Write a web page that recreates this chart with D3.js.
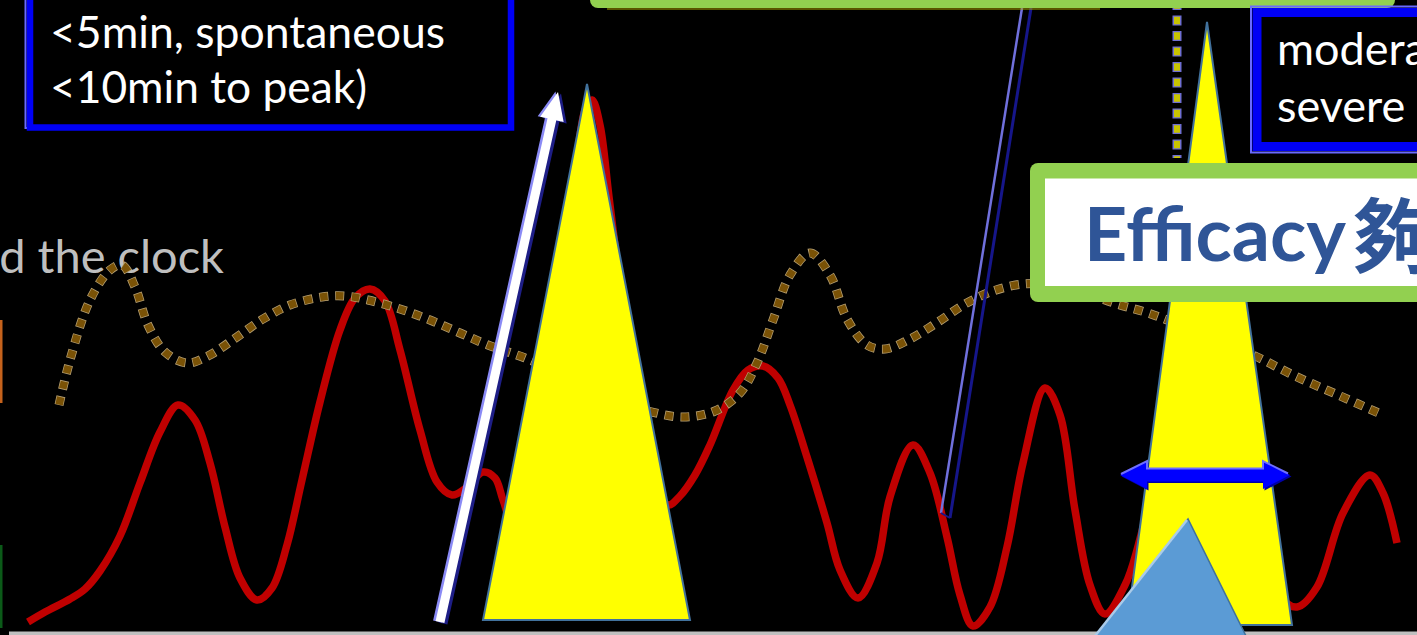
<!DOCTYPE html>
<html>
<head>
<meta charset="utf-8">
<script src="https://cdn.jsdelivr.net/npm/d3@7"></script>
<style>
  html, body { margin: 0; padding: 0; background: #000; overflow: hidden; }
  svg { display: block; }
</style>
</head>
<body>
<svg id="chart" width="1417" height="635"></svg>
<script>
// Breakthrough pain episodes over the day (time, intensity)
const painTime  = [2.8, 4.5, 7.0, 8.5, 10.0, 12.0, 14.0, 16.0, 17.8, 19.5, 21.0, 22.5, 24.0, 25.7, 27.2, 28.7, 30.2, 32.0, 34.0, 35.5, 37.0, 38.5, 40.0, 42.0, 43.7, 45.2, 46.6, 48.3, 49.5, 50.3, 51.5, 54.0, 57.0, 58.5, 59.2, 60.0, 60.9, 62.2, 64.0, 65.5, 66.8, 68.0, 69.5, 71.0, 73.3, 74.8, 76.3, 77.8, 79.0, 80.7, 82.7, 84.0, 85.8, 87.7, 89.0, 91.3, 93.0, 94.7, 96.0, 97.3, 99.0, 100.7, 102.3, 104.5, 106.0, 107.5, 109.0, 110.5, 112.5, 113.7, 115.5, 117.0, 118.5, 119.5, 120.5, 122.0, 124.0, 126.2, 128.2, 129.7, 131.7, 134.3, 137.0, 138.3, 139.7];
const painLevel = [0.8, 1.8, 3.1, 4.1, 5.9, 9.4, 14.7, 19.8, 22.5, 21.0, 16.7, 10.3, 5.2, 3.0, 4.2, 8.5, 15.0, 22.8, 30.0, 33.2, 34.1, 32.9, 28.0, 20.0, 14.8, 13.5, 14.2, 15.8, 15.2, 13.0, 10.0, 23.0, 41.0, 52.0, 53.0, 50.5, 43.3, 33.0, 21.0, 15.0, 12.5, 13.4, 15.5, 18.5, 24.0, 26.0, 26.4, 25.2, 22.5, 17.3, 10.7, 6.0, 3.2, 6.7, 13.3, 18.5, 15.7, 9.3, 3.5, 0.4, 2.3, 8.3, 16.7, 24.2, 21.5, 12.0, 4.5, 1.6, 4.5, 8.0, 16.0, 27.0, 37.0, 42.0, 44.5, 37.0, 23.0, 10.0, 3.2, 2.3, 4.3, 11.7, 15.5, 13.7, 8.7];

// Background (persistent) pain level
const bgTime  = [5.9, 7.0, 9.0, 11.0, 12.2, 13.5, 14.8, 16.5, 18.7, 20.8, 23.7, 26.3, 29.0, 32.2, 34.5, 36.8, 40.0, 43.0, 46.0, 48.8, 52.5, 57.0, 62.0, 65.2, 68.3, 71.5, 74.0, 75.7, 77.3, 79.0, 81.0, 83.0, 84.7, 86.7, 88.5, 91.0, 93.8, 96.5, 99.3, 102.3, 105.5, 108.5, 111.7, 114.8, 120.0, 125.3, 129.5, 133.8, 138.3];
const bgLevel = [22.5, 27.0, 33.0, 36.0, 36.5, 34.3, 30.5, 27.8, 26.7, 27.4, 29.3, 31.1, 32.5, 33.3, 33.4, 33.0, 32.1, 31.0, 29.7, 28.5, 27.2, 25.2, 22.8, 21.8, 21.3, 21.9, 23.7, 26.7, 31.0, 35.5, 37.7, 35.5, 31.1, 28.5, 28.1, 29.1, 30.8, 32.6, 33.9, 34.6, 34.5, 33.7, 32.6, 31.7, 29.7, 27.5, 25.4, 23.5, 21.5];

// Rescue-dose effect triangles
const doseApexTime  = [58.7, 120.7];
const doseApexLevel = [54.6, 60.8];
const doseBaseStart = [48.3, 112.7];
const doseBaseEnd   = [69.0, 129.2];
const doseBaseLevel = [1.0, 0.5];

// Rapid onset arrow (tail, tip)
const onsetArrowTime  = [44.0, 55.8];
const onsetArrowLevel = [0.8, 53.8];

// Thin reference bar (left and right rails)
const railTime  = [[94.1, 102.2], [95.0, 103.1]];
const railLevel = [[11.7, 62.2], [11.2, 62.2]];

// Duration marker
const durationTime  = [112.0, 129.0];
const durationLevel = 15.5;

// Dotted vertical marker
const markerTime  = 117.7;
const markerLevel = [63.0, 47.2];

// Blue dose marker (apex, base left, base right)
const markTime  = [118.8, 109.2, 124.8];
const markLevel = [11.1, -1.0, -1.0];

// Text labels
const leftBoxLines  = ["<5min, spontaneous", "<10min to peak)"];
const rightBoxLines = ["moderate to", "severe  pain"];
const clockLabel    = "Around the clock";
const efficacyLabel = "Efficacy";
const efficacyCJK   = "夠";

const svg = d3.select("#chart");
const x = d3.scaleLinear().domain([0, 141.7]).range([0, 1417]);
const y = d3.scaleLinear().domain([0, 63]).range([630, 0]);

svg.append("rect").attr("width", 1417).attr("height", 635).attr("fill", "#000");

// left edge bars & baseline
svg.append("rect").attr("x", 0).attr("y", 320).attr("width", 2.5).attr("height", 83).attr("fill", "#C5621C");
svg.append("rect").attr("x", 0).attr("y", 545).attr("width", 2.5).attr("height", 83).attr("fill", "#0B5A18");
svg.append("rect").attr("x", 9).attr("y", 631.5).attr("width", 1410).attr("height", 4).attr("fill", "#BFBFBF");

// label
svg.append("text")
  .attr("x", 224).attr("y", 273)
  .attr("text-anchor", "end")
  .attr("font-family", "Lato, 'Open Sans', sans-serif")
  .attr("font-size", 47)
  .attr("fill", "#BFBFBF")
  .text(clockLabel);

// breakthrough pain curve
const curve = d3.curveCatmullRom.alpha(0.5);
const painLine = d3.line()
  .x((d, i) => x(painTime[i]))
  .y((d, i) => y(painLevel[i]))
  .curve(curve);
svg.append("path")
  .attr("d", painLine(painTime))
  .attr("fill", "none")
  .attr("stroke", "#C00000")
  .attr("stroke-width", 7.5)
  .attr("stroke-linecap", "butt")
  .attr("stroke-linejoin", "round");

// background pain, square-dotted
const bgLine = d3.line()
  .x((d, i) => x(bgTime[i]))
  .y((d, i) => y(bgLevel[i]))
  .curve(curve);
svg.append("path")
  .attr("d", bgLine(bgTime))
  .attr("fill", "none")
  .attr("stroke", "#B59F72")
  .attr("stroke-width", 9)
  .attr("stroke-dasharray", "9 7");
svg.append("path")
  .attr("d", bgLine(bgTime))
  .attr("fill", "none")
  .attr("stroke", "#7A5206")
  .attr("stroke-width", 7.5)
  .attr("stroke-dasharray", "7.5 8.5")
  .attr("stroke-dashoffset", -0.75);

// thin rails
svg.append("line")
  .attr("x1", x(railTime[0][0])).attr("y1", y(railLevel[0][0]))
  .attr("x2", x(railTime[0][1])).attr("y2", y(railLevel[0][1]))
  .attr("stroke", "#7070DC").attr("stroke-width", 2.5);
svg.append("line")
  .attr("x1", x(railTime[1][0])).attr("y1", y(railLevel[1][0]))
  .attr("x2", x(railTime[1][1])).attr("y2", y(railLevel[1][1]))
  .attr("stroke", "#16168A").attr("stroke-width", 3);
svg.append("line")
  .attr("x1", x(railTime[0][0])).attr("y1", y(railLevel[0][0]))
  .attr("x2", x(railTime[1][0])).attr("y2", y(railLevel[1][0]))
  .attr("stroke", "#16168A").attr("stroke-width", 2);

// onset arrow
(function () {
  const x0 = x(onsetArrowTime[0]), y0 = y(onsetArrowLevel[0]);
  const x1 = x(onsetArrowTime[1]), y1 = y(onsetArrowLevel[1]);
  const len = Math.hypot(x1 - x0, y1 - y0);
  const ux = (x1 - x0) / len, uy = (y1 - y0) / len;
  const nx = -uy, ny = ux;
  const sw = 4.5, hw = 12, hl = 28;
  const bx = x1 - ux * hl, by = y1 - uy * hl;
  const pts = [
    [x0 + nx * sw, y0 + ny * sw],
    [bx + nx * sw, by + ny * sw],
    [bx + nx * hw, by + ny * hw],
    [x1, y1],
    [bx - nx * hw, by - ny * hw],
    [bx - nx * sw, by - ny * sw],
    [x0 - nx * sw, y0 - ny * sw]
  ];
  const poly = p => p.map(q => q.join(",")).join(" ");
  svg.append("polygon").attr("points", poly(pts)).attr("transform", "translate(3,1.5)").attr("fill", "#1E1E86");
  svg.append("polygon").attr("points", poly(pts)).attr("transform", "translate(-2.5,-0.5)").attr("fill", "#8A8AF5");
  svg.append("polygon").attr("points", poly(pts)).attr("fill", "#FFFFFF");
})();

// rescue-dose triangles
doseApexTime.forEach((t, i) => {
  const pts = [
    [x(t), y(doseApexLevel[i])],
    [x(doseBaseEnd[i]), y(doseBaseLevel[i])],
    [x(doseBaseStart[i]), y(doseBaseLevel[i])]
  ];
  svg.append("polygon")
    .attr("points", pts.map(p => p.join(",")).join(" "))
    .attr("fill", "#FFFF00")
    .attr("stroke", "#41719C")
    .attr("stroke-width", 2)
    .attr("stroke-linejoin", "miter");
});

// dotted vertical marker
svg.append("line")
  .attr("x1", x(markerTime)).attr("x2", x(markerTime))
  .attr("y1", y(markerLevel[0])).attr("y2", y(markerLevel[1]))
  .attr("stroke", "#6E6ED2").attr("stroke-width", 9)
  .attr("stroke-dasharray", "10 5.5");
svg.append("line")
  .attr("x1", x(markerTime)).attr("x2", x(markerTime))
  .attr("y1", y(markerLevel[0])).attr("y2", y(markerLevel[1]))
  .attr("stroke", "#C8C400").attr("stroke-width", 6)
  .attr("stroke-dasharray", "7.5 8")
  .attr("stroke-dashoffset", -1.25);

// green title bar at top
svg.append("rect").attr("x", 590).attr("y", -40).attr("width", 805).attr("height", 48).attr("rx", 8).attr("fill", "#92D050");
svg.append("line").attr("x1", 607).attr("x2", 1100).attr("y1", 9).attr("y2", 9).attr("stroke", "#B3A800").attr("stroke-width", 1.2);

const textFont = "Lato, 'Open Sans', sans-serif";

// left text box
svg.append("rect").attr("x", 25.5).attr("y", -30).attr("width", 486).attr("height", 158).attr("fill", "none").attr("stroke", "#6A6AFF").attr("stroke-width", 2);
svg.append("rect").attr("x", 30).attr("y", -30).attr("width", 481).attr("height", 157.5).attr("fill", "#000").attr("stroke", "#0000F5").attr("stroke-width", 6.5);
const leftWidths = [395, 317];
leftBoxLines.forEach((s, i) => {
  svg.append("text")
    .attr("x", 50).attr("y", 48 + i * 55)
    .attr("font-family", textFont).attr("font-size", 45)
    .attr("fill", "#FFFFFF")
    .attr("textLength", leftWidths[i]).attr("lengthAdjust", "spacingAndGlyphs")
    .text(s);
});

// right text box
svg.append("rect").attr("x", 1251).attr("y", 6.5).attr("width", 220).attr("height", 146).attr("fill", "none").attr("stroke", "#6A6AFF").attr("stroke-width", 2);
svg.append("rect").attr("x", 1257).attr("y", 12.5).attr("width", 220).attr("height", 134).attr("fill", "#000").attr("stroke", "#0000F5").attr("stroke-width", 9);
rightBoxLines.forEach((s, i) => {
  svg.append("text")
    .attr("x", 1277).attr("y", 65 + i * 57)
    .attr("font-family", textFont).attr("font-size", 45)
    .attr("fill", "#FFFFFF")
    .attr("xml:space", "preserve")
    .style("white-space", "pre")
    .text(s);
});

// efficacy box
svg.append("rect").attr("x", 1030).attr("y", 163).attr("width", 430).attr("height", 139).attr("rx", 8).attr("fill", "#92D050");
svg.append("rect").attr("x", 1045).attr("y", 178.5).attr("width", 410).attr("height", 107.5).attr("fill", "#FFFFFF");
svg.append("text")
  .attr("x", 1084).attr("y", 261)
  .attr("font-family", textFont).attr("font-weight", 700).attr("font-size", 75)
  .attr("fill", "#2F5597")
  .attr("textLength", 262).attr("lengthAdjust", "spacingAndGlyphs")
  .text(efficacyLabel);
svg.append("text")
  .attr("x", 1353).attr("y", 267)
  .attr("font-family", "'Noto Sans CJK TC', 'Noto Sans CJK SC', sans-serif").attr("font-weight", 700).attr("font-size", 82)
  .attr("fill", "#2F5597")
  .text(efficacyCJK);

// duration double arrow
(function () {
  const xa = x(durationTime[0]), xb = x(durationTime[1]), cy = y(durationLevel);
  const sh = 6.5, hh = 14, hl = 27;
  const pts = [
    [xa, cy], [xa + hl, cy - hh], [xa + hl, cy - sh], [xb - hl, cy - sh], [xb - hl, cy - hh],
    [xb, cy], [xb - hl, cy + hh], [xb - hl, cy + sh], [xa + hl, cy + sh], [xa + hl, cy + hh]
  ];
  const poly = p => p.map(q => q.join(",")).join(" ");
  svg.append("polygon").attr("points", poly(pts)).attr("transform", "translate(1.5,1.5)").attr("fill", "#0000A8");
  svg.append("polygon").attr("points", poly(pts)).attr("fill", "#0000FF");
  svg.append("polyline")
    .attr("points", poly([[xa + 1, cy - 1], [xa + hl, cy - hh], [xa + hl, cy - sh], [xb - hl, cy - sh], [xb - hl, cy - hh], [xb - 2, cy - 1.5]]))
    .attr("fill", "none").attr("stroke", "#6E6EFF").attr("stroke-width", 2);
})();

// blue dose marker triangle
(function () {
  const pts = markTime.map((t, i) => [x(t), y(markLevel[i])]);
  svg.append("polygon")
    .attr("points", pts.map(p => p.join(",")).join(" "))
    .attr("fill", "#5B9BD5")
    .attr("stroke", "#41719C").attr("stroke-width", 1.5);
  svg.append("line")
    .attr("x1", pts[0][0] - 1).attr("y1", pts[0][1] + 1)
    .attr("x2", pts[1][0] - 1).attr("y2", pts[1][1] + 1)
    .attr("stroke", "#A9CBEA").attr("stroke-width", 2.5);
})();
</script>
</body>
</html>
